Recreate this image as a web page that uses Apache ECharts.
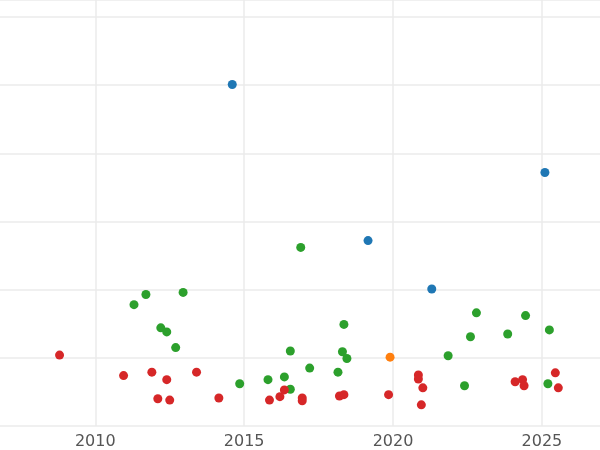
<!DOCTYPE html>
<html><head><meta charset="utf-8">
<script src="https://cdn.jsdelivr.net/npm/echarts@6/dist/echarts.min.js"></script>
<style>html,body{margin:0;padding:0;background:#fff}#c{width:600px;height:450px}</style>
</head><body><div id="c"></div>
<script>
// [year, value]
const blue = [[2014.6, 4.01], [2025.1, 2.72], [2019.16, 1.72], [2021.3, 1.01]]
const orange = [[2019.9, 0.01]]
const green = [
  [2011.3, 0.78], [2011.7, 0.93], [2012.95, 0.96], [2012.2, 0.44], [2012.4, 0.38],
  [2012.7, 0.15], [2014.85, -0.38], [2015.8, -0.32], [2016.35, -0.28], [2016.55, 0.10],
  [2016.55, -0.46], [2016.9, 1.62], [2017.2, -0.15], [2018.15, -0.21], [2018.35, 0.49],
  [2018.3, 0.09], [2018.45, -0.01], [2021.85, 0.03], [2022.4, -0.41], [2022.6, 0.31],
  [2022.8, 0.66], [2023.85, 0.35], [2024.45, 0.62], [2025.25, 0.41], [2025.2, -0.38]
]
const red = [
  [2008.8, 0.04], [2010.95, -0.26], [2011.9, -0.21], [2012.4, -0.32], [2012.1, -0.60],
  [2012.5, -0.62], [2013.4, -0.21], [2014.15, -0.59], [2015.85, -0.62], [2016.2, -0.57],
  [2016.35, -0.47], [2016.95, -0.59], [2016.95, -0.63], [2018.2, -0.56], [2018.35, -0.54],
  [2019.85, -0.54], [2020.85, -0.25], [2020.85, -0.31], [2021.0, -0.44], [2020.95, -0.69],
  [2024.1, -0.35], [2024.35, -0.32], [2024.4, -0.41], [2025.45, -0.22], [2025.55, -0.44]
]
const xTicks = [2010, 2015, 2020, 2025]

const chart = echarts.init(document.getElementById('c'))
const mk = (data, color) => ({
  type: 'scatter', data, symbolSize: 9,
  itemStyle: { color, opacity: 1 }, emphasis: { disabled: true }
})
chart.setOption({
  animation: false,
  grid: { left: 0, right: 0, top: 0, bottom: 24 },
  xAxis: {
    type: 'value', min: 2006.8, max: 2026.95,
    axisLine: { show: false },
    axisTick: { show: false, customValues: xTicks },
    axisLabel: { customValues: xTicks, formatter: v => String(v), color: '#555', fontSize: 16, fontFamily: 'DejaVu Sans', margin: 8 },
    splitLine: { lineStyle: { color: '#ebebeb', width: 1.5 } }
  },
  yAxis: {
    type: 'value', min: -1, max: 5.25, interval: 1,
    axisLine: { show: false }, axisTick: { show: false }, axisLabel: { show: false },
    splitLine: { lineStyle: { color: '#ebebeb', width: 1.5 } }
  },
  series: [mk(green, '#2ca02c'), mk(red, '#d62728'), mk(blue, '#1f77b4'), mk(orange, '#ff7f0e')]
})
</script></body></html>
